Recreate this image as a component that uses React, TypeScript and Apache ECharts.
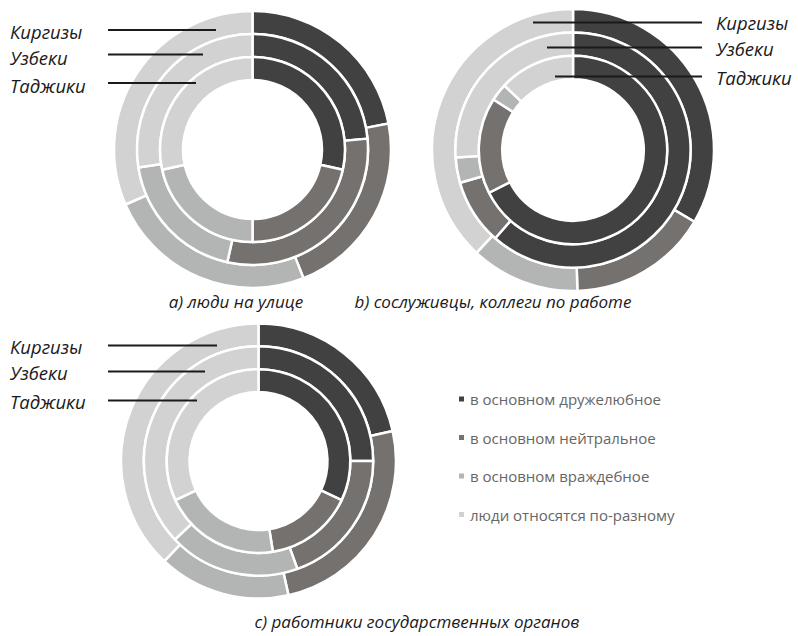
import React, { useEffect, useRef } from "react";
import * as echarts from "echarts";

const categories = [
  "в основном дружелюбное",
  "в основном нейтральное",
  "в основном враждебное",
  "люди относятся по-разному",
];
const groups = ["Киргизы", "Узбеки", "Таджики"];
const captions = [
  "a) люди на улице",
  "b) сослуживцы, коллеги по работе",
  "c) работники государственных органов",
];

// (a) people on the street
const streetKyrgyz = [22, 22, 24.5, 31.5];
const streetUzbek = [23.5, 30, 19, 27.5];
const streetTajik = [28.5, 21.5, 21.5, 28.5];
// (b) colleagues at work
const workKyrgyz = [33.5, 16, 12.5, 38];
const workUzbek = [61.5, 9, 3.5, 26];
const workTajik = [67.5, 16.5, 3, 13];
// (c) state officials
const officialsKyrgyz = [21.5, 25, 15.5, 38];
const officialsUzbek = [25, 19.5, 18.5, 37];
const officialsTajik = [32, 15.5, 20.5, 32];

const colors = ["#414141", "#75716f", "#b3b5b4", "#d2d2d2"];

export default function App() {
  const ref = useRef<HTMLDivElement>(null);
  useEffect(() => {
    if (!ref.current) return;
    const chart = echarts.init(ref.current, undefined, { renderer: "svg" });

    const charts = [
      { center: [252.5, 149.5], R: 137.5, rings: [streetKyrgyz, streetUzbek, streetTajik] },
      { center: [573, 150], R: 140, rings: [workKyrgyz, workUzbek, workTajik] },
      { center: [258.5, 461], R: 136.5, rings: [officialsKyrgyz, officialsUzbek, officialsTajik] },
    ];

    const series: any[] = [];
    charts.forEach((c, ci) => {
      const k = c.R / 137.5;
      const radii = [
        [115.5 * k, 138.5 * k],
        [92.5 * k, 115.5 * k],
        [69.5 * k, 92.5 * k],
      ];
      c.rings.forEach((vals, ri) => {
        series.push({
          type: "pie",
          name: `${ci}-${groups[ri]}`,
          center: c.center,
          radius: radii[ri],
          startAngle: 90,
          clockwise: true,
          silent: true,
          avoidLabelOverlap: false,
          label: { show: false },
          labelLine: { show: false },
          emphasis: { disabled: true },
          itemStyle: { borderColor: "#ffffff", borderWidth: 2.5 },
          data: categories.map((n, i) => ({ name: n, value: vals[i] })),
        });
      });
    });

    const labelFont = "italic 18.5px 'Open Sans', 'Noto Sans', sans-serif";
    const mkText = (text: string, x: number, y: number, align: string, font: string, fill = "#1a1a1a") => ({
      type: "text",
      z: 100,
      style: {
        text,
        x,
        y,
        font,
        fill,
        align,
        verticalAlign: "middle",
        textAlign: align,
        textVerticalAlign: "middle",
      },
    });
    const mkLine = (x1: number, y1: number, x2: number, y2: number) => ({
      type: "line",
      z: 100,
      shape: { x1, y1, x2, y2 },
      style: { stroke: "#1a1a1a", lineWidth: 2 },
    });

    const labelSets = [
      { tx: 10, ys: [31, 57, 85], ls: [30, 54.5, 83], lines: [[108, 216], [108, 203], [108, 196]] },
      { tx: 716, ys: [22, 48, 77], ls: [22.5, 47.5, 76.5], lines: [[533, 702], [547, 702], [555, 702]] },
      { tx: 10, ys: [346.5, 372.5, 401.5], ls: [345.5, 371.5, 400.5], lines: [[108, 217], [108, 205], [108, 197]] },
    ];
    const graphics: any[] = [];
    labelSets.forEach((s) => {
      groups.forEach((g, i) => {
        graphics.push(mkText(g, s.tx, s.ys[i], "left", labelFont));
        graphics.push(mkLine(s.lines[i][0], s.ls[i], s.lines[i][1], s.ls[i]));
      });
    });
    const capFont = "italic 17px 'Open Sans', 'Noto Sans', sans-serif";
    graphics.push(mkText(captions[0], 236, 301, "center", capFont));
    graphics.push(mkText(captions[1], 493, 301, "center", capFont));
    graphics.push(mkText(captions[2], 417, 621, "center", capFont));

    chart.setOption({
      animation: false,
      color: colors,
      legend: {
        data: categories,
        orient: "vertical",
        left: 452,
        top: 386,
        icon: "rect",
        itemWidth: 7,
        itemHeight: 7,
        itemGap: 22.5,
        selectedMode: false,
        textStyle: {
          fontFamily: "'Open Sans', sans-serif",
          fontSize: 15,
          lineHeight: 16,
          color: "#666666",
        },
      },
      series,
      graphic: graphics,
    });
    return () => chart.dispose();
  }, []);
  return (
    <div
      ref={ref}
      style={{ position: "fixed", left: 0, top: 0, width: 798, height: 636, background: "#ffffff" }}
    />
  );
}
